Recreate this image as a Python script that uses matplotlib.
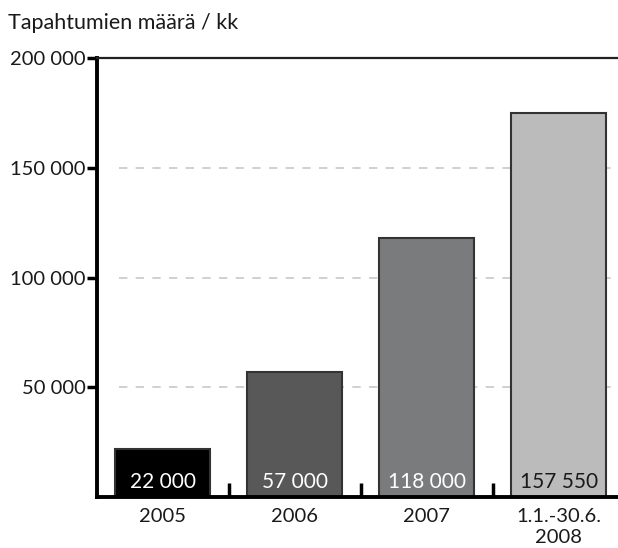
import matplotlib
matplotlib.use("Agg")
import matplotlib.pyplot as plt

# ── Data ──────────────────────────────────────────────────────────────
categories = ["2005", "2006", "2007", "1.1.-30.6.\n2008"]
bar_heights = [22000, 57000, 118000, 175000]
bar_labels = ["22 000", "57 000", "118 000", "157 550"]
bar_colors = ["#000000", "#575857", "#7a7b7c", "#babbba"]
label_colors = ["white", "white", "white", "#1a1a1a"]
y_ticks = [50000, 100000, 150000, 200000]
y_tick_labels = ["50 000", "100 000", "150 000", "200 000"]

plt.rcParams["font.family"] = ["Lato", "DejaVu Sans"]

fig = plt.figure(figsize=(6.18, 5.48), dpi=100)
ax = fig.add_axes([0.157, 0.093, 0.841, 0.801])

x = list(range(len(categories)))

# dashed grid lines (start a little right of the left spine)
for yv in y_ticks[:-1]:
    ax.hlines(yv, -0.33, 3.44, colors="#c8c8c8", linestyles=(0, (5, 5)),
              linewidth=1.2, zorder=1)

ax.bar(x, bar_heights, width=0.72, color=bar_colors, edgecolor="#333333",
       linewidth=1.5, zorder=2)

for xi, lab, lc in zip(x, bar_labels, label_colors):
    ax.text(xi, 6800, lab, ha="center", va="center", color=lc,
            fontsize=15, zorder=3)

ax.set_xlim(-0.5, 3.44)
ax.set_ylim(0, 200000)

ax.set_yticks(y_ticks)
ax.set_yticklabels(y_tick_labels, fontsize=14.5, color="#1a1a1a")
ax.tick_params(axis="y", direction="out", length=7, width=2.5, pad=1)

# x ticks at the category boundaries, pointing up; labels under bars
ax.set_xticks([0.5, 1.5, 2.5], minor=False)
ax.set_xticklabels([])
ax.tick_params(axis="x", direction="in", length=10, width=2.5)
ax.set_xticks(x, minor=True)
ax.set_xticklabels(categories, minor=True, fontsize=14.5, color="#1a1a1a")
for t in ax.get_xticklabels(minor=True):
    t.set_linespacing(1.25)
ax.tick_params(axis="x", which="minor", length=0, pad=8)

for side in ["left", "bottom"]:
    ax.spines[side].set_linewidth(2.8)
    ax.spines[side].set_color("black")
ax.spines["top"].set_linewidth(1.6)
ax.spines["top"].set_color("#222222")
ax.spines["right"].set_visible(False)

fig.text(0.013, 0.958, "Tapahtumien määrä / kk", fontsize=15.5,
         color="#1a1a1a", ha="left", va="center")

fig.savefig("out.png", dpi=100)
